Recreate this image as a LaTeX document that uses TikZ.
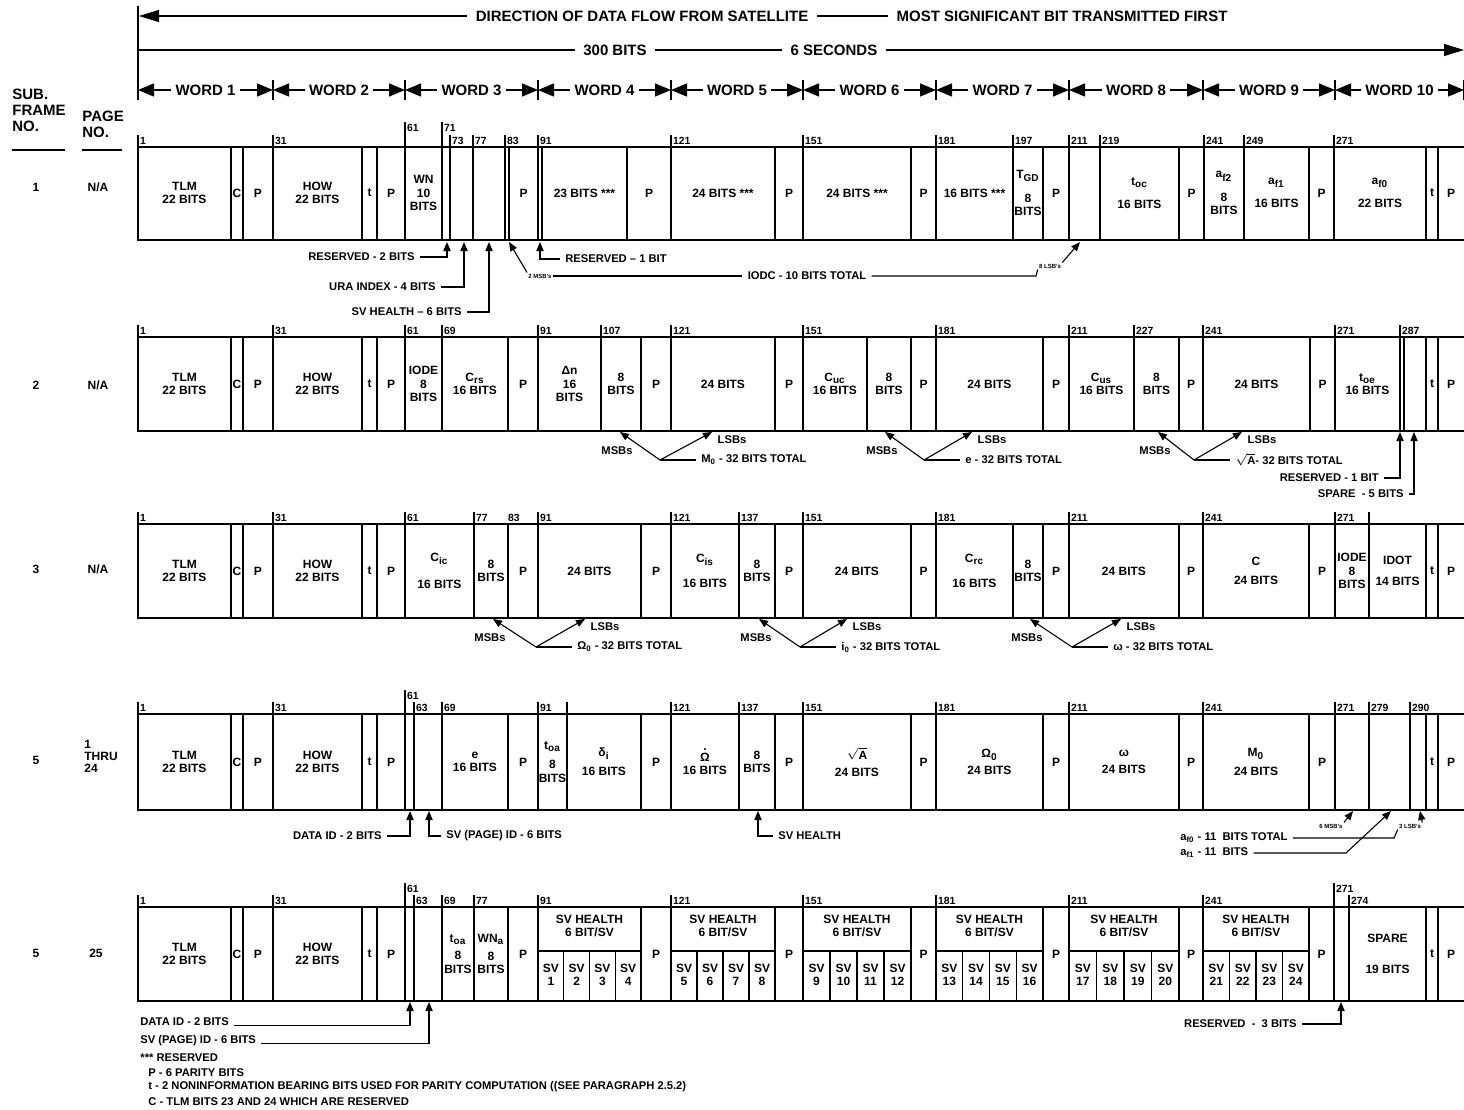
\documentclass[tikz,border=0pt]{standalone}
\usepackage{fontspec}
\setmainfont{Liberation Sans}
\usetikzlibrary{arrows.meta}

% one subframe row: top y, bottom y, x of the field dividers
\newcommand{\subrow}[3]{%
  \draw[frame] (1464,#1) -- (138,#1) -- (138,#2) -- (1464,#2);
  \foreach \x in {#3} {\draw[divider] (\x,#1) -- (\x,#2);}
}
% field texts of a row: name, middle y, a/b/text
\newcommand{\rowcells}[3]{%
  \foreach \a/\b/\txt [count=\i] in {#3} {\node[cell] (#1c\i) at ({(\a+\b)/2},#2) {\txt};}
}
% bit numbers: name, top y, tick height, x/number
\newcommand{\bitnos}[4]{%
  \foreach \x/\n in {#4} {%
    \draw[tick] (\x,#2) -- (\x,#2-#3);
    \node[bitno] (#1n\n) at (\x,#2-#3+6) {\n};
  }
}
% MSBs/LSBs split of a 32 bit parameter: bottom y, msb x, vertex x, lsb x, text, name
\newcommand{\splitnote}[6]{%
  \coordinate (#6v) at (#3,#1+29);
  \coordinate (#6m) at (#2,#1+1);
  \coordinate (#6l) at (#4,#1+1);
  \node[note, anchor=west] (#6t) at (#3+36,#1+29) {#5};
  \node[note] (#6ms) at (#2-3,#1+20) {MSBs};
  \node[note] (#6ls) at (#4+20,#1+9) {LSBs};
  \draw[ann] (#6v) -- (#6m);
  \draw[ann] (#6v) -- (#6l);
  \draw[lead] (#6v) -- (#6t.west);
}

\begin{document}
\begin{tikzpicture}[x=0.5pt, y=-0.5pt,
    frame/.style={line width=0.9pt},
    divider/.style={line width=0.55pt},
    tick/.style={line width=0.55pt},
    lead/.style={line width=0.55pt},
    cell/.style={font=\fontsize{6}{6.6}\selectfont\bfseries, align=center, inner sep=0pt},
    bitno/.style={font=\fontsize{5.2}{5.5}\selectfont\bfseries, anchor=west, inner sep=0.8pt},
    note/.style={font=\fontsize{5.6}{6}\selectfont\bfseries, inner sep=2.5pt},
    tiny/.style={font=\fontsize{3}{3.2}\selectfont\bfseries, inner sep=0.5pt},
    hdr/.style={font=\fontsize{7.5}{8}\selectfont\bfseries, inner sep=4pt},
    wordlbl/.style={font=\fontsize{7.5}{8}\selectfont\bfseries, inner sep=2pt},
    colhd/.style={font=\fontsize{7.5}{8}\selectfont\bfseries, align=left, inner sep=0pt},
    rowlbl/.style={font=\fontsize{6}{6}\selectfont\bfseries, align=left, inner sep=0pt},
    ann/.style={-{Triangle[length=4.5pt,width=3.6pt]}, line width=0.55pt},
    bigarr/.style={-{Triangle[length=10pt,width=6pt]}, line width=0.6pt},
    wordarr/.style={-{Triangle[length=8pt,width=6.5pt]}, line width=0.6pt}
  ]
  \useasboundingbox (0,0) rectangle (1464,1110);

  % header arrows
  \draw[lead] (138,6) -- (138,100);
  \node[hdr] (dirflow) at (642,16) {DIRECTION OF DATA FLOW FROM SATELLITE};
  \node[hdr] (msbfirst) at (1062,16) {MOST SIGNIFICANT BIT TRANSMITTED FIRST};
  \coordinate (dirend) at (139,16);
  \draw[bigarr] (dirflow.west) -- (dirend);
  \draw[lead] (dirflow.east) -- (msbfirst.west);

  \node[hdr] (bits300) at (615,50) {300 BITS};
  \node[hdr] (sixsec) at (834,50) {6 SECONDS};
  \coordinate (spanl) at (139,50);
  \coordinate (spanr) at (1464,50);
  \draw[lead] (spanl) -- (bits300.west);
  \draw[lead] (bits300.east) -- (sixsec.west);
  \draw[bigarr] (sixsec.east) -- (spanr);

  \foreach \w/\xa/\xb in {1/138/273, 2/273/405, 3/405/538, 4/538/671, 5/671/803,
      6/803/936, 7/936/1069, 8/1069/1203, 9/1203/1335, 10/1335/1464} {
    \node[wordlbl] (word\w) at ({(\xa+\xb)/2},90) {WORD \w};
    \coordinate (wordl\w) at (\xa,90);
    \coordinate (wordr\w) at (\xb,90);
    \draw[wordarr] (word\w.west) -- (wordl\w);
    \draw[wordarr] (word\w.east) -- (wordr\w);
    \draw[lead] (\xb,80) -- (\xb,100);
  }

  % left column
  \node[colhd, anchor=north west] (sfhead) at (12,89) {SUB.\\FRAME\\NO.};
  \node[colhd, anchor=north west] (pghead) at (82,111) {PAGE\\NO.};
  \draw[lead] (12,150) -- (65,150);
  \draw[lead] (82,150) -- (122,150);
  \node[rowlbl] (sf1) at (36,187) {1};
  \node[rowlbl] (pg1) at (98,187) {N/A};
  \node[rowlbl] (sf2) at (36,385) {2};
  \node[rowlbl] (pg2) at (98,385) {N/A};
  \node[rowlbl] (sf3) at (36,569) {3};
  \node[rowlbl] (pg3) at (98,569) {N/A};
  \node[rowlbl] (sf4) at (36,760) {5};
  \node[rowlbl, anchor=north west] (pg4) at (84,740) {1\\THRU\\24};
  \node[rowlbl] (sf5) at (36,953) {5};
  \node[rowlbl] (pg5) at (96,953) {25};

  % subframe 1
  \subrow{147}{240}{231,243,273,362,377,405,442,450,473,505,509,538,542,627,671,775,803,911,
    936,1013,1043,1069,1100,1179,1204,1244,1309,1334,1426,1438}
  \bitnos{r1}{147}{12}{138/1,273/31,450/73,473/77,505/83,538/91,671/121,803/151,936/181,
    1013/197,1069/211,1100/219,1204/241,1244/249,1334/271}
  \bitnos{r1}{147}{25}{405/61,442/71}
  \rowcells{r1}{193}{138/231/{TLM\\22 BITS}, 231/243/C, 243/273/P, 273/362/{HOW\\22 BITS},
    362/377/t, 377/405/P, 405/442/{WN\\10\\BITS}, 509/538/P, 542/627/{23 BITS ***},
    627/671/P, 671/775/{24 BITS ***}, 775/803/P, 803/911/{24 BITS ***}, 911/936/P,
    936/1013/{16 BITS ***}, 1013/1043/{T\textsubscript{GD}\\[5pt]8\\BITS}, 1043/1069/P,
    1100/1179/{t\textsubscript{oc}\\[5pt]16 BITS}, 1179/1204/P,
    1204/1244/{a\textsubscript{f2}\\[5pt]8\\BITS}, 1244/1309/{a\textsubscript{f1}\\[5pt]16 BITS},
    1309/1334/P, 1334/1426/{a\textsubscript{f0}\\[5pt]22 BITS}, 1426/1438/t, 1438/1464/P}

  \node[note, anchor=east] (rsv2) at (420,257) {RESERVED - 2 BITS};
  \coordinate (rsv2tip) at (447,242);
  \draw[ann] (rsv2.east) -| (rsv2tip);
  \node[note, anchor=east] (ura) at (441,287) {URA INDEX - 4 BITS};
  \coordinate (uratip) at (464,242);
  \draw[ann] (ura.east) -| (uratip);
  \node[note, anchor=east] (svh6) at (467,312) {SV HEALTH -- 6 BITS};
  \coordinate (svh6tip) at (489,242);
  \draw[ann] (svh6.east) -| (svh6tip);
  \node[note, anchor=west] (rsv1) at (560,259) {RESERVED -- 1 BIT};
  \coordinate (rsv1tip) at (540,242);
  \draw[ann] (rsv1.west) -| (rsv1tip);

  \node[tiny] (iodcmsb) at (540,276) {2 MSB's};
  \coordinate (iodcmtip) at (509,242);
  \draw[ann] (iodcmsb.north west) -- (iodcmtip);
  \node[note] (iodc) at (807,276) {IODC - 10 BITS TOTAL};
  \draw[lead] (iodcmsb.east) -- (iodc.west);
  \node[tiny] (iodclsb) at (1050,266) {8 LSB's};
  \draw[lead] (iodc.east) -- (1036,276) -- (iodclsb.south west);
  \coordinate (iodcltip) at (1080,242);
  \draw[ann] (iodclsb.north east) -- (iodcltip);

  % subframe 2
  \subrow{337}{431}{231,243,273,362,377,405,442,508,538,601,641,671,775,803,867,911,936,1043,
    1069,1134,1179,1203,1310,1335,1400,1404,1426,1438}
  \bitnos{r2}{337}{12}{138/1,273/31,405/61,442/69,538/91,601/107,671/121,803/151,936/181,
    1069/211,1134/227,1203/241,1335/271,1400/287}
  \rowcells{r2}{384}{138/231/{TLM\\22 BITS}, 231/243/C, 243/273/P, 273/362/{HOW\\22 BITS},
    362/377/t, 377/405/P, 405/442/{IODE\\8\\BITS}, 442/508/{C\textsubscript{rs}\\16 BITS},
    508/538/P, 538/601/{Δn\\16\\BITS}, 601/641/{8\\BITS}, 641/671/P, 671/775/{24 BITS},
    775/803/P, 803/867/{C\textsubscript{uc}\\16 BITS}, 867/911/{8\\BITS}, 911/936/P,
    936/1043/{24 BITS}, 1043/1069/P, 1069/1134/{C\textsubscript{us}\\16 BITS},
    1134/1179/{8\\BITS}, 1179/1203/P, 1203/1310/{24 BITS}, 1310/1335/P,
    1335/1400/{t\textsubscript{oe}\\16 BITS}, 1426/1438/t, 1438/1464/P}

  \splitnote{431}{620}{660}{712}{M\textsubscript{0} - 32 BITS TOTAL}{mzero}
  \splitnote{431}{885}{924}{972}{e - 32 BITS TOTAL}{ecc}
  \splitnote{431}{1158}{1194}{1242}{$\sqrt{\hbox{A}}$- 32 BITS TOTAL}{sqa}
  \node[note, anchor=east] (rsvone) at (1384,478) {RESERVED - 1 BIT};
  \coordinate (rsvonetip) at (1400,432);
  \draw[ann] (rsvone.east) -| (rsvonetip);
  \node[note, anchor=east] (spare5) at (1409,494) {SPARE\ \ - 5 BITS};
  \coordinate (spare5tip) at (1414,432);
  \draw[ann] (spare5.east) -| (spare5tip);

  % subframe 3
  \subrow{524}{618}{231,243,273,362,377,405,474,508,538,641,671,739,775,803,911,936,1013,1043,
    1069,1179,1203,1309,1335,1369,1426,1438}
  \bitnos{r3}{524}{12}{138/1,273/31,405/61,474/77,538/91,671/121,739/137,803/151,936/181,
    1069/211,1203/241,1335/271}
  \draw[tick] (1369,524) -- (1369,512);
  \node[bitno] (r3n83) at (506,518) {83};
  \rowcells{r3}{571}{138/231/{TLM\\22 BITS}, 231/243/C, 243/273/P, 273/362/{HOW\\22 BITS},
    362/377/t, 377/405/P, 405/474/{C\textsubscript{ic}\\[7pt]16 BITS}, 474/508/{8\\BITS},
    508/538/P, 538/641/{24 BITS}, 641/671/P, 671/739/{C\textsubscript{is}\\[6pt]16 BITS},
    739/775/{8\\BITS}, 775/803/P, 803/911/{24 BITS}, 911/936/P,
    936/1013/{C\textsubscript{rc}\\[6pt]16 BITS}, 1013/1043/{8\\BITS}, 1043/1069/P,
    1069/1179/{24 BITS}, 1179/1203/P, 1203/1309/{C\\[3pt]24 BITS}, 1309/1335/P,
    1335/1369/{IODE\\8\\BITS}, 1369/1426/{IDOT\\[4pt]14 BITS}, 1426/1438/t, 1438/1464/P}

  \splitnote{618}{493}{536}{585}{Ω\textsubscript{0} - 32 BITS TOTAL}{omz}
  \splitnote{618}{759}{800}{847}{i\textsubscript{0} - 32 BITS TOTAL}{izero}
  \splitnote{618}{1030}{1072}{1121}{ω - 32 BITS TOTAL}{argp}

  % subframe 5, pages 1 thru 24
  \subrow{714}{810}{231,243,273,362,377,405,414,442,508,538,567,641,671,739,775,803,911,936,
    1043,1069,1179,1203,1309,1335,1369,1410,1426,1438}
  \bitnos{r4}{714}{12}{138/1,273/31,414/63,442/69,538/91,671/121,739/137,803/151,936/181,
    1069/211,1203/241,1335/271,1369/279,1410/290}
  \bitnos{r4}{714}{24}{405/61}
  \draw[tick] (567,714) -- (567,702);
  \rowcells{r4}{762}{138/231/{TLM\\22 BITS}, 231/243/C, 243/273/P, 273/362/{HOW\\22 BITS},
    362/377/t, 377/405/P, 442/508/{e\\16 BITS}, 508/538/P,
    538/567/{t\textsubscript{oa}\\[3pt]8\\BITS}, 567/641/{δ\textsubscript{i}\\[3pt]16 BITS},
    641/671/P, 671/739/{.\\[-1.2pt]Ω\\16 BITS}, 739/775/{8\\BITS}, 775/803/P,
    803/911/{$\sqrt{\hbox{A}}$\\[2pt]24 BITS}, 911/936/P,
    936/1043/{Ω\textsubscript{0}\\[2pt]24 BITS}, 1043/1069/P, 1069/1179/{ω\\[2pt]24 BITS},
    1179/1203/P, 1203/1309/{M\textsubscript{0}\\[3pt]24 BITS}, 1309/1335/P,
    1426/1438/t, 1438/1464/P}

  \node[note, anchor=east] (dataid4) at (387,836) {DATA ID - 2 BITS};
  \coordinate (dataid4tip) at (410,811);
  \draw[ann] (dataid4.east) -| (dataid4tip);
  \node[note, anchor=west] (svid4) at (441,836) {SV (PAGE) ID - 6 BITS};
  \coordinate (svid4tip) at (429,811);
  \draw[ann] (svid4.west) -| (svid4tip);
  \node[note, anchor=west] (svhlth4) at (773,836) {SV HEALTH};
  \coordinate (svhlth4tip) at (758,811);
  \draw[ann] (svhlth4.west) -| (svhlth4tip);

  \node[tiny] (afmsb) at (1331,826) {6 MSB's};
  \coordinate (afmsbtip) at (1353,811);
  \draw[ann] (afmsb.north east) -- (afmsbtip);
  \node[tiny] (aflsb) at (1410,826) {3 LSB's};
  \coordinate (aflsbtip) at (1420,811);
  \draw[ann] (aflsb.north east) -- (aflsbtip);
  \node[note, anchor=west] (afzero) at (1175,838) {a\textsubscript{f0} - 11\ \ BITS TOTAL};
  \draw[lead] (afzero.east) -- (1394,838) -- (aflsb.south west);
  \node[note, anchor=west] (afone) at (1175,853) {a\textsubscript{f1} - 11\ \ BITS};
  \coordinate (afonetip) at (1391,811);
  \draw[ann] (afone.east) -- (1346,853) -- (afonetip);

  % subframe 5, page 25
  \subrow{907}{1001}{231,243,273,362,377,405,414,442,474,508,538,641,671,775,803,911,936,
    1043,1069,1179,1203,1309,1334,1349,1426,1438}
  \bitnos{r5}{907}{12}{138/1,273/31,414/63,442/69,474/77,538/91,671/121,803/151,936/181,
    1069/211,1203/241,1349/274}
  \bitnos{r5}{907}{24}{405/61,1334/271}
  \rowcells{r5}{954}{138/231/{TLM\\22 BITS}, 231/243/C, 243/273/P, 273/362/{HOW\\22 BITS},
    362/377/t, 377/405/P, 442/474/{t\textsubscript{oa}\\[2pt]8\\BITS},
    474/508/{WN\textsubscript{a}\\[2pt]8\\BITS}, 508/538/P, 641/671/P, 775/803/P, 911/936/P,
    1043/1069/P, 1179/1203/P, 1309/1334/P, 1349/1426/{SPARE\\[9pt]19 BITS},
    1426/1438/t, 1438/1464/P}
  \foreach \a/\b/\s in {538/641/1, 671/775/5, 803/911/9, 936/1043/13, 1069/1179/17, 1203/1309/21} {
    \node[cell] (svh\s) at ({(\a+\b)/2},926) {SV HEALTH\\6 BIT/SV};
    \draw[divider] (\a,951) -- (\b,951);
    \foreach \k in {1,2,3} {\draw[divider] ({\a+\k*(\b-\a)/4},951) -- ({\a+\k*(\b-\a)/4},1001);}
    \foreach \k in {0,...,3} {%
      \pgfmathtruncatemacro{\n}{\s+\k}
      \node[cell] (sv\n) at ({\a+(\k+0.5)*(\b-\a)/4},975) {SV\\\n};
    }
  }

  \node[note, anchor=west] (dataid5) at (135,1022) {DATA ID - 2 BITS};
  \coordinate (dataid5tip) at (410,1002);
  \draw[ann] (dataid5.base east) -| (dataid5tip);
  \node[note, anchor=west] (svid5) at (135,1041) {SV (PAGE) ID - 6 BITS};
  \coordinate (svid5tip) at (429,1002);
  \draw[ann] (svid5.base east) -| (svid5tip);
  \node[note, anchor=east] (rsv3) at (1302,1024) {RESERVED\ \ - \ 3 BITS};
  \coordinate (rsv3tip) at (1341,1002);
  \draw[ann] (rsv3.east) -| (rsv3tip);

  % key
  \node[note, anchor=west] (keyres) at (135,1058) {*** RESERVED};
  \node[note, anchor=west] (keyp) at (143,1073) {P - 6 PARITY BITS};
  \node[note, anchor=west] (keyt) at (143,1087) {t - 2 NONINFORMATION BEARING BITS USED FOR PARITY COMPUTATION ((SEE PARAGRAPH 2.5.2)};
  \node[note, anchor=west] (keyc) at (143,1102) {C - TLM BITS 23 AND 24 WHICH ARE RESERVED};
\end{tikzpicture}
\end{document}
